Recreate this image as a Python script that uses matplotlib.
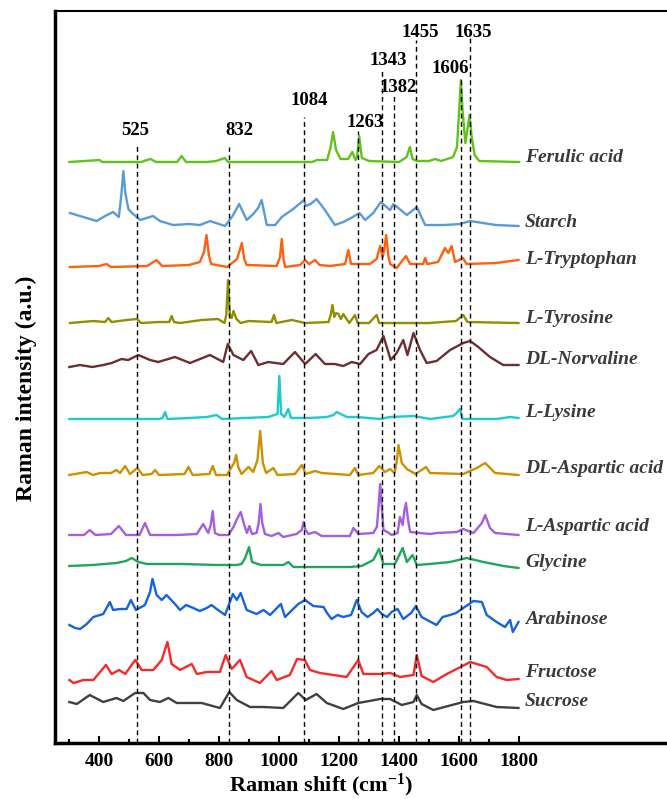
import numpy as np
import matplotlib.pyplot as plt

plt.rcParams['font.family'] = ['Liberation Serif', 'DejaVu Serif']
plt.rcParams['font.weight'] = 'bold'
plt.rcParams['mathtext.fontset'] = 'custom'
plt.rcParams['mathtext.rm'] = 'Liberation Serif:bold'
plt.rcParams['mathtext.it'] = 'Liberation Serif:bold:italic'
plt.rcParams['mathtext.bf'] = 'Liberation Serif:bold'
plt.rcParams['mathtext.default'] = 'rm'

# spectra: wavenumber (cm-1) and height above own baseline (a.u.)
ferulic_x = [301, 402, 410, 540, 560, 572, 590, 660, 675, 690, 760, 790, 819, 830, 1000, 1110, 1126, 1160, 1172, 1180,
             1190, 1205, 1230, 1244, 1255, 1260, 1267, 1276, 1300, 1400, 1425, 1436, 1445, 1460, 1500, 1520, 1540, 1580,
             1593, 1600, 1606, 1612, 1621, 1629, 1635, 1642, 1652, 1667, 1800]
ferulic_h = [0, 2, 0, 0, 2, 3, 0, 0, 6, 0, 0, 1, 4, 0, 0, 0, 2, 2, 15, 30,
             12, 3, 3, 10, 2, 5, 26, 4, 1, 0, 5, 15, 3, 1, 1, 3, 1, 5,
             15, 50, 82, 50, 19, 35, 47, 25, 7, 1, 0]

starch_x = [303, 392, 420, 447, 466, 474, 481, 488, 498, 510, 537, 580, 603, 647, 700, 736, 770, 820, 845, 867,
            892, 914, 930, 942, 959, 987, 1009, 1047, 1083, 1089, 1105, 1125, 1153, 1186, 1214, 1240, 1268, 1287, 1314,
            1339, 1370, 1381, 1426, 1459, 1487, 1550, 1603, 1637, 1680, 1723, 1798]
starch_h = [13, 5, 10, 14, 9, 30, 55, 32, 17, 13, 6, 10, 5, 1, 2, 1, 5, 0, 10, 22,
            6, 12, 18, 26, 1, 1, 9, 17, 26, 20, 22, 27, 16, 1, 4, 8, 13, 6, 13,
            24, 16, 22, 11, 19, 1, 1, 2, 5, 3, 1, 0]

tryptophan_x = [303, 400, 425, 440, 560, 592, 610, 700, 736, 750, 758, 766, 774, 827, 860, 876, 884, 892, 992, 1003,
                1009, 1015, 1020, 1070, 1087, 1100, 1120, 1135, 1170, 1220, 1231, 1240, 1303, 1325, 1337, 1345, 1351,
                1357, 1364, 1370, 1392, 1423, 1437, 1480, 1487, 1494, 1530, 1553, 1564, 1575, 1587, 1613, 1625, 1723,
                1798]
tryptophan_h = [0, 1, 3, 0, 1, 7, 1, 2, 5, 15, 32, 12, 3, 0, 8, 24, 8, 2, 1, 10,
                28, 8, 0, 2, 7, 3, 7, 2, 1, 3, 17, 3, 3, 8, 21, 10, 18,
                32, 12, 3, -1, 11, 3, 3, 9, 3, 5, 19, 14, 21, 5, 9, 3, 4,
                7]

tyrosine_x = [303, 381, 420, 431, 442, 492, 526, 540, 600, 634, 642, 650, 670, 742, 797, 818, 824, 830, 836, 842,
              848, 858, 872, 898, 975, 983, 991, 1042, 1087, 1165, 1172, 1178, 1184, 1190, 1198, 1206, 1214, 1234,
              1253, 1262, 1300, 1325, 1334, 1370, 1500, 1590, 1598, 1614, 1628, 1798]
tyrosine_h = [0, 2, 1, 5, 1, 3, 4, 0, 1, 1, 7, 1, 0, 3, 4, 0, 8, 43, 8, 5,
              12, 4, 0, 2, 1, 8, 0, 3, 0, 1, 8, 18, 6, 10, 9, 4, 9, 0,
              8, 0, 0, 8, 0, 0, 0, 2, 4, 8, 1, 0]

norvaline_x = [301, 337, 378, 414, 442, 475, 497, 531, 570, 597, 653, 703, 770, 814, 829, 848, 881, 907, 931, 964,
               1014, 1053, 1087, 1122, 1153, 1186, 1214, 1242, 1270, 1298, 1325, 1348, 1372, 1392, 1414, 1428, 1448,
               1470, 1492, 1525, 1570, 1614, 1637, 1664, 1703, 1747, 1798]
norvaline_h = [0, 2, 0, 2, 4, 8, 7, 12, 7, 5, 10, 4, 12, 5, 23, 12, 7, 16, 2, 5,
               3, 15, 3, 13, 3, 3, 1, 5, 3, 13, 17, 31, 7, 14, 27, 12, 34,
               17, 4, 6, 17, 24, 26, 20, 10, 2, 2]

lysine_x = [301, 600, 612, 620, 628, 700, 759, 792, 810, 964, 995, 1001, 1007, 1018, 1031, 1040, 1100, 1159, 1181,
            1192, 1226, 1259, 1337, 1370, 1448, 1503, 1580, 1592, 1603, 1612, 1725, 1770, 1798]
lysine_h = [0, 0, 1, 7, 0, 1, 2, 4, 0, 2, 5, 43, 5, 2, 10, 1, 1, 2, 4,
            7, 2, 2, 0, 2, 3, 0, 3, 6, 10, 0, 0, 2, 1]

dl_aspartic_x = [301, 359, 380, 404, 440, 458, 470, 487, 503, 528, 545, 575, 587, 600, 685, 698, 712, 768, 779, 790,
                 826, 850, 857, 864, 875, 898, 914, 928, 937, 946, 957, 981, 995, 1053, 1076, 1089, 1120, 1142, 1236,
                 1253, 1264, 1314, 1334, 1353, 1370, 1385, 1393, 1398, 1409, 1426, 1455, 1490, 1503, 1614, 1659, 1687,
                 1720, 1798]
dl_aspartic_h = [0, 3, 0, 2, 2, 5, 2, 9, 1, 7, 0, 1, 5, 0, 1, 8, 0, 1, 9, 0,
                 0, 12, 20, 8, 1, 8, 3, 15, 44, 12, 2, 7, 0, 1, 10, 1, 4, 2, 0,
                 7, 0, 2, 9, 3, 6, 2, 15, 30, 12, 6, 1, 8, 2, 1, 7, 12,
                 2, 0]

l_aspartic_x = [301, 350, 369, 388, 440, 466, 490, 535, 553, 570, 659, 726, 747, 764, 772, 779, 786, 800, 831, 848,
                860, 872, 884, 893, 901, 910, 925, 932, 938, 944, 953, 975, 998, 1014, 1058, 1076, 1082, 1088, 1098,
                1120, 1142, 1236, 1248, 1264, 1314, 1326, 1332, 1337, 1342, 1348, 1361, 1375, 1395, 1403, 1412, 1418,
                1423, 1430, 1437, 1503, 1525, 1592, 1614, 1648, 1676, 1687, 1703, 1720, 1798]
l_aspartic_h = [0, 0, 5, 0, 1, 9, 0, 0, 12, 0, 0, 1, 11, 2, 10, 24, 2, 0, 0, 8,
                16, 23, 10, 2, 9, 1, 2, 12, 31, 12, 1, -1, 2, -2, 1, 5, 13, 5, 1,
                3, -1, -1, 7, 1, 2, 8, 30, 51, 30, 5, 3, 0, 2, 18, 10, 25,
                32, 15, 3, 1, 2, 3, 6, 2, 12, 20, 7, 2, 0]

glycine_x = [301, 380, 458, 490, 509, 531, 560, 681, 792, 859, 875, 887, 900, 910, 940, 1014, 1031, 1048, 1236, 1275,
             1314, 1333, 1348, 1386, 1412, 1426, 1445, 1459, 1503, 1570, 1625, 1681, 1748, 1798]
glycine_h = [0, 1, 3, 5, 8, 4, 2, 2, 1, 1, 2, 8, 19, 4, 1, 1, 4, -1, -1, 0,
             6, 17, 2, 2, 18, 4, 11, 1, 2, 4, 8, 4, 0, -2]

arabinose_x = [301, 320, 337, 359, 381, 414, 436, 447, 470, 492, 506, 523, 553, 570, 578, 592, 609, 625, 653, 670,
               690, 714, 736, 759, 775, 792, 820, 846, 859, 872, 892, 925, 948, 970, 1006, 1020, 1064, 1087, 1114,
               1148, 1160, 1175, 1195, 1214, 1240, 1259, 1275, 1295, 1314, 1328, 1342, 1360, 1375, 1395, 1414, 1440,
               1456, 1475, 1500, 1525, 1545, 1570, 1590, 1614, 1648, 1676, 1692, 1725, 1753, 1770, 1779, 1798]
arabinose_h = [2, -1, -2, 3, 10, 13, 25, 17, 18, 18, 27, 17, 22, 35, 48, 32, 27, 32, 23, 17,
               22, 19, 16, 19, 22, 18, 12, 33, 27, 34, 17, 13, 17, 12, 23, 10, 23, 27, 21,
               20, 14, 8, 12, 10, 12, 27, 15, 10, 14, 18, 13, 10, 15, 18, 8, 14,
               21, 10, 6, 2, 10, 12, 14, 19, 26, 25, 12, 5, 0, 7, -5, 5]

fructose_x = [301, 315, 348, 381, 423, 442, 467, 487, 521, 542, 581, 609, 628, 642, 670, 709, 726, 759, 803, 822,
              842, 870, 892, 936, 975, 992, 1036, 1060, 1086, 1103, 1136, 1181, 1225, 1264, 1281, 1337, 1370, 1403,
              1448, 1459, 1475, 1514, 1559, 1592, 1637, 1692, 1725, 1759, 1798]
fructose_h = [2, -1, 2, 2, 17, 8, 12, 8, 22, 12, 12, 22, 40, 18, 12, 18, 8, 10, 10, 27,
              13, 22, 5, -1, 11, 2, 7, 23, 22, 12, 9, 7, 5, 22, 8, 8, 9, 5,
              7, 27, 6, 0, 8, 13, 20, 15, 5, 2, 3]

sucrose_x = [301, 326, 369, 414, 458, 481, 520, 548, 570, 603, 631, 659, 742, 803, 834, 859, 903, 948, 1014, 1064,
             1089, 1125, 1159, 1214, 1264, 1337, 1370, 1409, 1448, 1459, 1475, 1514, 1614, 1648, 1725, 1798]
sucrose_h = [3, 1, 10, 3, 7, 4, 12, 12, 5, 3, 7, 2, 2, -3, 13, 5, -2, -2, -3, 12,
             5, 11, 2, -4, 2, 6, 6, 0, 3, 10, 1, -5, 3, 4, -2, -3]

names = ['Ferulic acid', 'Starch', 'L-Tryptophan', 'L-Tyrosine', 'DL-Norvaline', 'L-Lysine',
         'DL-Aspartic acid', 'L-Aspartic acid', 'Glycine', 'Arabinose', 'Fructose', 'Sucrose']
spectra_x = [ferulic_x, starch_x, tryptophan_x, tyrosine_x, norvaline_x, lysine_x,
             dl_aspartic_x, l_aspartic_x, glycine_x, arabinose_x, fructose_x, sucrose_x]
spectra_h = [ferulic_h, starch_h, tryptophan_h, tyrosine_h, norvaline_h, lysine_h,
             dl_aspartic_h, l_aspartic_h, glycine_h, arabinose_h, fructose_h, sucrose_h]
offsets = [581, 517, 476, 420, 376, 324, 268, 208, 177, 116, 61, 38]

peaks = [525, 832, 1084, 1263, 1343, 1382, 1455, 1606, 1635]

# styling / placement
colors = ['#62c21c', '#5b9bd5', '#ff5f0f', '#8f8f00', '#6b2e32', '#1ecbcb',
          '#cc9000', '#a45ee0', '#1ea65a', '#1464dc', '#f52a2a', '#404040']
label_y = [586, 521, 484, 425, 384, 331, 275, 217, 180, 123, 70, 41]
line_tops = [598, 596, 626, 612, 675, 648, 703, 665, 706]
peak_lab_x = [521, 867, 1101, 1288, 1363, 1397, 1471, 1571, 1648]
peak_lab_y = [613, 613, 643, 621, 683, 656, 711, 675, 711]

fig = plt.figure(figsize=(6.67, 7.99), dpi=100)
ax = fig.add_axes([0.0825, 0.0701, 0.9175, 0.9161])

for p, top in zip(peaks, line_tops):
    ax.plot([p, p], [0, top], color='k', lw=1.0, ls=(0, (3.5, 2.5)), zorder=3)
for p, lx, ly in zip(peaks, peak_lab_x, peak_lab_y):
    ax.text(lx, ly, str(p), ha='center', va='center', fontsize=13.5, fontweight='bold')

for x, h, off, c, name, ly in zip(spectra_x, spectra_h, offsets, colors, names, label_y):
    ax.plot(x, off + np.array(h), color=c, lw=1.7, zorder=2)
    ax.text(1820, ly, name, ha='left', va='center', fontsize=14, fontweight='bold',
            fontstyle='italic', color='#3a3a3a')

ax.set_xlim(253.3, 2293)
ax.set_ylim(0, 732)
ax.set_xticks(np.arange(400, 1801, 200))
ax.set_xticks(np.arange(300, 1800, 200), minor=True)
ax.set_yticks([])
ax.tick_params(axis='x', which='major', direction='in', length=5, width=1.5, labelsize=14, pad=7)
ax.tick_params(axis='x', which='minor', direction='in', length=3, width=1.5)
for lab in ax.get_xticklabels():
    lab.set_fontweight('bold')

ax.spines['right'].set_visible(False)
ax.spines['top'].set_linewidth(1.5)
ax.spines['left'].set_linewidth(2.5)
ax.spines['bottom'].set_linewidth(2.5)

ax.set_xlabel('Raman shift (cm$^{-1}$)', fontsize=16, fontweight='bold')
ax.set_ylabel('Raman intensity (a.u.)', fontsize=17, fontweight='bold')
ax.xaxis.set_label_coords(0.435, -0.039)
ax.yaxis.set_label_coords(-0.03, 0.485)

fig.savefig('out.png', dpi=100)
